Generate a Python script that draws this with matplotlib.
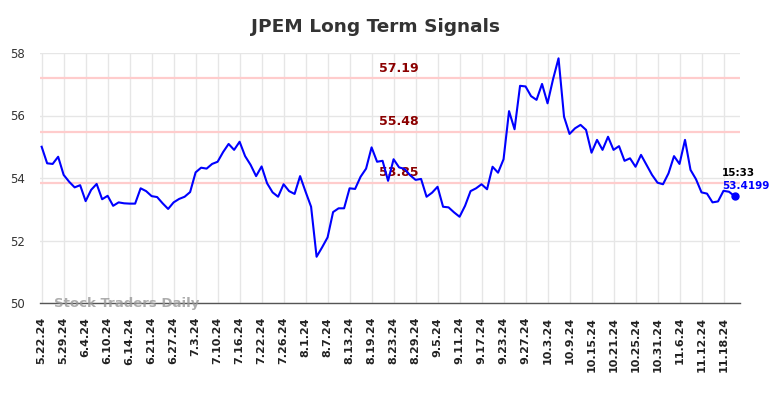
import numpy as np
import matplotlib
matplotlib.use("Agg")
import matplotlib.pyplot as plt
import matplotlib.transforms as mtransforms

# closing prices, one per trading day (5.22.24 .. 11.20.24)
prices = [
    55.00, 54.47, 54.45, 54.68, 54.10, 53.88, 53.70, 53.77, 53.26, 53.62,
    53.81, 53.32, 53.43, 53.11, 53.22, 53.19, 53.18, 53.18, 53.67, 53.58,
    53.42, 53.39, 53.19, 53.01, 53.22, 53.33, 53.40, 53.55, 54.18, 54.33,
    54.30, 54.45, 54.52, 54.83, 55.09, 54.90, 55.16, 54.70, 54.42, 54.06,
    54.37, 53.83, 53.54, 53.40, 53.80, 53.58, 53.49, 54.06, 53.56, 53.08,
    51.48, 51.78, 52.10, 52.91, 53.03, 53.03, 53.67, 53.65, 54.04, 54.30,
    54.98, 54.52, 54.55, 53.91, 54.60, 54.34, 54.29, 54.09, 53.94, 53.97,
    53.40, 53.53, 53.72, 53.08, 53.06, 52.90, 52.76, 53.11, 53.58, 53.67,
    53.80, 53.64, 54.36, 54.17, 54.60, 56.14, 55.56, 56.95, 56.93, 56.62,
    56.50, 57.01, 56.39, 57.16, 57.83, 55.96, 55.41, 55.59, 55.70, 55.54,
    54.81, 55.22, 54.90, 55.32, 54.90, 55.02, 54.55, 54.63, 54.36, 54.74,
    54.42, 54.10, 53.85, 53.80, 54.15, 54.70, 54.45, 55.22, 54.26, 53.96,
    53.54, 53.50, 53.22, 53.25, 53.59, 53.56, 53.4199,
]

tick_labels = [
    "5.22.24", "5.29.24", "6.4.24", "6.10.24", "6.14.24", "6.21.24", "6.27.24",
    "7.3.24", "7.10.24", "7.16.24", "7.22.24", "7.26.24", "8.1.24", "8.7.24",
    "8.13.24", "8.19.24", "8.23.24", "8.29.24", "9.5.24", "9.11.24", "9.17.24",
    "9.23.24", "9.27.24", "10.3.24", "10.9.24", "10.15.24", "10.21.24",
    "10.25.24", "10.31.24", "11.6.24", "11.12.24", "11.18.24",
]

levels = [57.19, 55.48, 53.85]
last_time = "15:33"

x = np.arange(len(prices))

fig = plt.figure(figsize=(7.84, 3.98), dpi=100)
ax = fig.add_axes([40 / 784, 95 / 398, 700 / 784, 250 / 398])

ax.set_xlim(-0.3, 127)
ax.set_ylim(50, 58)
ax.set_xticks(x[::4][:len(tick_labels)])
ax.set_xticklabels(tick_labels, rotation=90, fontsize=8, fontweight="bold", color="#222222")
ax.set_yticks([50, 52, 54, 56, 58])
ax.tick_params(axis="y", labelsize=8.5, colors="#333333", length=0, pad=11)
ax.tick_params(axis="x", length=0, pad=10)
ax.grid(True, color="#e6e6e6", lw=1)
ax.set_axisbelow(True)
for s in ["top", "right", "left"]:
    ax.spines[s].set_visible(False)
ax.spines["bottom"].set_color("#555555")
ax.spines["bottom"].set_linewidth(1)

# support / resistance levels
for lv in levels:
    ax.axhline(lv, color="#ffcccc", lw=1.6, zorder=1)
    ax.text(65, lv + 0.12, f"{lv:.2f}", color="#8b0000", fontsize=9,
            fontweight="bold", ha="center", va="bottom", zorder=2)

ax.plot(x, prices, color="#0000ff", lw=1.5, zorder=3)
ax.plot(x[-1], prices[-1], "o", color="#0000ff", ms=5, zorder=4)

ax.text(x[-1] - 2.3, prices[-1] + 0.75, last_time, fontsize=7.5,
        fontweight="bold", color="black", ha="left", va="center")
ax.text(x[-1] - 2.3, prices[-1] + 0.33, f"{prices[-1]:.4f}", fontsize=7.5,
        fontweight="bold", color="#0000ff", ha="left", va="center")

# watermark
trans = mtransforms.blended_transform_factory(ax.transAxes, ax.transData)
ax.text(0.02, 50.0, "Stock Traders Daily", fontsize=9.5, fontweight="bold",
        color="#999999", alpha=0.8, ha="left", va="center", transform=trans)

fig.text(375 / 784, 1 - 27 / 398, "JPEM Long Term Signals", fontsize=13.3,
         fontweight="bold", color="#333333", ha="center", va="center")

fig.savefig("out.png", dpi=100)
